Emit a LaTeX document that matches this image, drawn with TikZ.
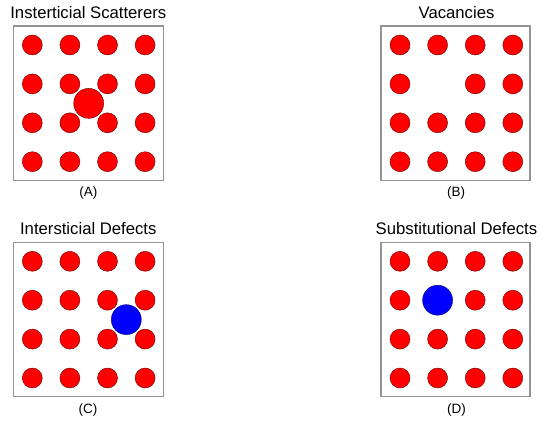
\documentclass[tikz,border=0pt]{standalone}
\usepackage{fontspec}
\setmainfont{Liberation Sans}
\begin{document}
\begin{tikzpicture}[x=1pt,y=-1pt,
  cell/.style={draw=gray!85,line width=1.1pt},
  atom/.style={fill=red,draw=red!40!black,line width=0.4pt},
  impurity/.style={fill=blue,draw=blue!40!black,line width=0.4pt},
  ttl/.style={font=\fontsize{16.7}{20}\selectfont,inner sep=0pt},
  lbl/.style={font=\fontsize{13.5}{16}\selectfont,inner sep=0pt}]
\useasboundingbox (0,0) rectangle (537,420);
% (A) interstitial scatterer
\begin{scope}[shift={(13.3,26)}]
  \draw[cell] (0,0) rectangle (150,154.5);
  \foreach \i in {0,...,3} \foreach \j in {0,...,3}
    \filldraw[atom] (19+37.6*\i,19+38.9*\j) circle (10pt);
  \filldraw[atom] (19+37.6*1.5,19+38.9*1.5) circle (15pt);
\end{scope}
\node[ttl] (tA) at (88.3,13) {Insterticial Scatterers};
\node[lbl] (lA) at (88.3,193) {(A)};
% (B) vacancy
\begin{scope}[shift={(381,26)}]
  \draw[cell] (0,0) rectangle (149,154.5);
  \foreach \i in {0,...,3} \foreach \j in {0,...,3}
    {\ifnum\i\j=11 \else \filldraw[atom] (19+37.6*\i,19+38.9*\j) circle (10pt);\fi}
\end{scope}
\node[ttl] (tB) at (456.5,13) {Vacancies};
\node[lbl] (lB) at (456,193) {(B)};
% (C) interstitial defect
\begin{scope}[shift={(13.3,242.3)}]
  \draw[cell] (0,0) rectangle (150,154.5);
  \foreach \i in {0,...,3} \foreach \j in {0,...,3}
    \filldraw[atom] (19+37.6*\i,19+38.9*\j) circle (10pt);
  \filldraw[impurity] (19+37.6*2.5,19+38.9*1.5) circle (15pt);
\end{scope}
\node[ttl] (tC) at (88.3,228.5) {Intersticial Defects};
\node[lbl] (lC) at (88,410) {(C)};
% (D) substitutional defect
\begin{scope}[shift={(381,242.3)}]
  \draw[cell] (0,0) rectangle (149,154.5);
  \foreach \i in {0,...,3} \foreach \j in {0,...,3}
    {\ifnum\i\j=11 \else \filldraw[atom] (19+37.6*\i,19+38.9*\j) circle (10pt);\fi}
  \filldraw[impurity] (19+37.6,19+38.9) circle (15pt);
\end{scope}
\node[ttl] (tD) at (456.5,228.5) {Substitutional Defects};
\node[lbl] (lD) at (456.5,410) {(D)};
\end{tikzpicture}
\end{document}
